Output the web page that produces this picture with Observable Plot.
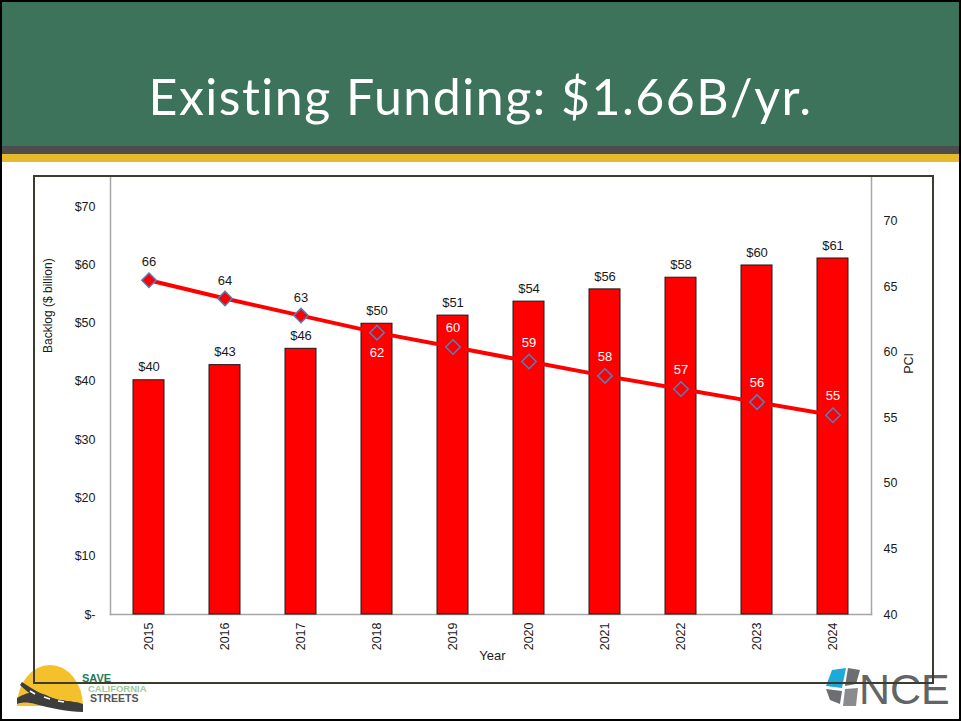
<!DOCTYPE html>
<html><head><meta charset="utf-8">
<script src="https://cdn.jsdelivr.net/npm/d3@7"></script>
<script src="https://cdn.jsdelivr.net/npm/@observablehq/plot@0.6"></script>
<style>
html,body{margin:0;padding:0;background:#fff;}
#slide{position:relative;width:961px;height:721px;overflow:hidden;font-family:"Liberation Sans",Arial,sans-serif;background:#fff;}
#border{position:absolute;left:0;top:0;width:957px;height:717px;border:2px solid #000;z-index:10;pointer-events:none;}
#header{position:absolute;left:0;top:0;width:961px;height:146px;background:#3c735a;}
#grayband{position:absolute;left:0;top:146px;width:961px;height:8px;background:#4d4d4d;}
#yellowband{position:absolute;left:0;top:154px;width:961px;height:8px;background:#e5ba2b;}
#title{position:absolute;left:0;top:71px;width:961px;text-align:center;color:#fff;font-family:Lato,"Open Sans",sans-serif;font-weight:400;font-size:50px;line-height:50px;letter-spacing:1.5px;white-space:nowrap;}
#logos{position:absolute;left:0;top:0;z-index:1;}
#chart{position:absolute;left:34px;top:176px;z-index:2;}
#box{position:absolute;left:33px;top:175px;width:897px;height:505px;border:2px solid #3b3b2e;z-index:3;pointer-events:none;}
</style>
</head><body>
<div id="slide">
  <div id="header"></div>
  <div id="grayband"></div>
  <div id="yellowband"></div>
  <div id="title">Existing Funding: $1.66B/yr.</div>
  <svg id="logos" width="961" height="721">
    <!-- Save California Streets logo -->
    <path d="M17,706 A33,41 0 0 1 83,706 Z" fill="#f4c12c"/>
    <path d="M17,698 C30,690 40,692 50,697 C60,702 72,700 83,704 L83,712 C68,712 50,708 35,704 C28,702 22,702 17,704 Z" fill="#3d3d3d"/>
    <path d="M22,682 C28,686 34,690 42,694 C52,699 64,701 80,703 L80,706 C62,705 48,702 38,698 C30,694 25,690 20,685 Z" fill="#3d3d3d"/>
    <path d="M30,691 l5,3 M44,697 l6,2 M58,701 l6,1" stroke="#fff" stroke-width="1.5"/>
    <text x="82" y="682" font-family="Liberation Sans, Arial, sans-serif" font-weight="bold" font-size="11" fill="#1c7a58">SAVE</text>
    <text x="88" y="691.5" font-family="Liberation Sans, Arial, sans-serif" font-weight="bold" font-size="9.5" fill="#9ccb98">CALIFORNIA</text>
    <text x="90" y="702" font-family="Liberation Sans, Arial, sans-serif" font-weight="bold" font-size="10.5" fill="#555">STREETS</text>
    <!-- NCE logo -->
    <path d="M832,670 L846,668 L842,688 L826,686 Z" fill="#1eaad8"/>
    <path d="M848,668 L860,670 L856,684 L845,686 Z" fill="#6d6e71"/>
    <path d="M826,689 L842,691 L840,704 L830,700 Z" fill="#6d6e71"/>
    <path d="M845,689 L858,688 L856,706 L843,706 Z" fill="#8a8b8e"/>
    <text x="859" y="704" font-family="Liberation Sans, Arial, sans-serif" font-size="43" fill="#636466">NCE</text>
  </svg>
  <div id="chart"></div>
  <div id="box"></div>
  <div id="border"></div>
</div>
<script>
// ---- data ----
const years = ["2015","2016","2017","2018","2019","2020","2021","2022","2023","2024"];
const backlog = [40.2, 42.8, 45.6, 49.9, 51.3, 53.7, 55.8, 57.8, 59.9, 61.1]; // $ billion
const pci = [65.5, 64.1, 62.8, 61.5, 60.4, 59.3, 58.2, 57.2, 56.2, 55.2];
const backlogTicks = [0, 10, 20, 30, 40, 50, 60, 70];
const pciTicks = [40, 45, 50, 55, 60, 65, 70];

// secondary axis mapping: PCI [40, 73.33] onto backlog [0, 75]
const yMax = 75, pciMin = 40, pciMax = 73.333;
const k = yMax / (pciMax - pciMin);
const toLeft = v => (v - pciMin) * k;
const fromLeft = v => v / k + pciMin;

const rows = years.map((year, i) => ({year, backlog: backlog[i], pci: pci[i], pciLeft: toLeft(pci[i])}));
const inside = d => d.pciLeft < d.backlog;
const below = d => inside(d) && (d.backlog - d.pciLeft) < 4;

const font = "Liberation Sans, Arial, sans-serif";
const axisColor = "#a6a6a6";

const chart = Plot.plot({
  width: 898,
  height: 506,
  marginLeft: 76,
  marginRight: 61,
  marginTop: 1,
  marginBottom: 68,
  x: {type: "band", domain: years, paddingInner: 0.59, paddingOuter: 0.295},
  y: {domain: [0, yMax]},
  style: {fontFamily: font, background: "transparent", overflow: "visible", color: "#1a1a1a"},
  marks: [
    Plot.frame({anchor: "left", stroke: axisColor, strokeWidth: 1.5}),
    Plot.frame({anchor: "right", stroke: axisColor, strokeWidth: 1.5}),
    Plot.frame({anchor: "bottom", stroke: axisColor, strokeWidth: 1.5}),
    Plot.axisY(backlogTicks, {anchor: "left", tickSize: 0, tickPadding: 15, fontSize: 12.5, label: null,
      tickFormat: d => d === 0 ? "$-" : "$" + d}),
    Plot.axisY(pciTicks.map(toLeft), {anchor: "right", tickSize: 0, tickPadding: 12, fontSize: 12.5, label: null,
      tickFormat: d => String(Math.round(fromLeft(d)))}),
    Plot.axisX({tickRotate: -90, tickSize: 0, tickPadding: 8, fontSize: 12.5, label: null}),
    Plot.barY(rows, {x: "year", y: "backlog", fill: "#ff0000", stroke: "#1a1a1a", strokeWidth: 1}),
    Plot.text(rows, {x: "year", y: "backlog", text: d => "$" + Math.round(d.backlog), dy: -13, fontSize: 13, fill: "#1a1a1a"}),
    Plot.line(rows, {x: "year", y: "pciLeft", stroke: "#ff0000", strokeWidth: 4}),
    Plot.dot(rows, {x: "year", y: "pciLeft", symbol: "diamond2", r: 6.5, fill: "#ff0000", stroke: "#4f81bd", strokeWidth: 1.5}),
    Plot.text(rows.filter(d => !inside(d)), {x: "year", y: "pciLeft", text: d => String(Math.round(d.pci)), dy: -18, fontSize: 13, fill: "#1a1a1a"}),
    Plot.text(rows.filter(d => inside(d) && !below(d)), {x: "year", y: "pciLeft", text: d => String(Math.round(d.pci)), dy: -19, fontSize: 13, fill: "#ffffff"}),
    Plot.text(rows.filter(d => below(d)), {x: "year", y: "pciLeft", text: d => String(Math.round(d.pci)), dy: 20, fontSize: 13, fill: "#ffffff"}),
    Plot.text(["Backlog ($ billion)"], {frameAnchor: "left", text: d => d, rotate: -90, dx: -62, dy: -43, fontSize: 12, fill: "#1a1a1a"}),
    Plot.text(["PCI"], {frameAnchor: "right", text: d => d, rotate: -90, dx: 37, dy: -43, fontSize: 12.5, fill: "#1a1a1a"}),
    Plot.text(["Year"], {frameAnchor: "bottom", text: d => d, dx: 1.5, dy: 45, fontSize: 13, fill: "#1a1a1a"})
  ]
});
document.getElementById("chart").appendChild(chart);
</script>
</body></html>
